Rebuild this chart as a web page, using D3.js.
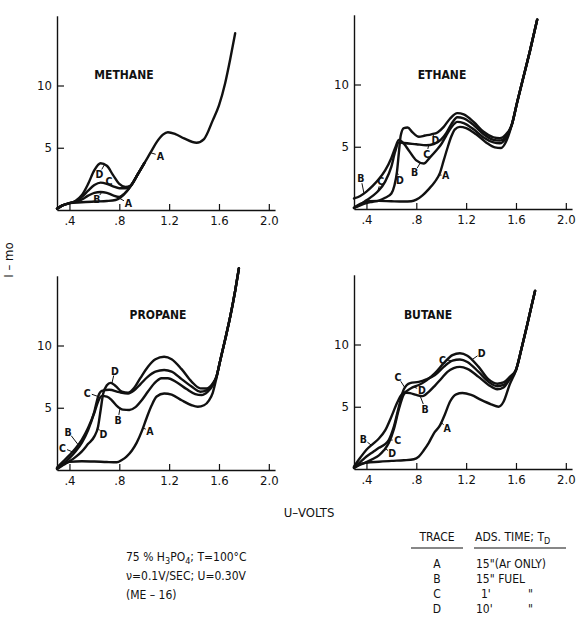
<!DOCTYPE html>
<html>
<head>
<meta charset="utf-8">
<script src="https://cdn.jsdelivr.net/npm/d3@7"></script>
<style>
  html, body { margin: 0; padding: 0; background: #fff; }
  svg { display: block; }
  text { font-family: "DejaVu Sans Condensed", "Liberation Sans Narrow", "Roboto Condensed", "DejaVu Sans", sans-serif; fill: #111; }
</style>
</head>
<body>
<svg id="chart" width="578" height="628"></svg>
<script>
// Anodic sweeps, current I (mA) against potential U (V), for four adsorbed fuels.
// Each trace is a list of [U, I] readings.

const xTickValues = [0.4, 0.8, 1.2, 1.6, 2.0];
const xTickLabels = [".4", ".8", "1.2", "1.6", "2.0"];
const yTickValues = [5, 10];
const yTickLabels = ["5", "10"];

// ---- METHANE ----
const methaneA = [[0.30,0.10],[0.34,0.35],[0.40,0.55],[0.50,0.62],[0.60,0.68],[0.70,0.72],[0.77,0.80],[0.81,1.00],[0.86,1.50],[0.89,1.90],[0.95,2.90],[1.00,3.75],[1.05,4.60],[1.10,5.45],[1.15,6.05],[1.19,6.25],[1.25,6.10],[1.32,5.75],[1.42,5.40],[1.48,5.70],[1.55,7.20],[1.60,8.40],[1.65,10.20],[1.69,12.10],[1.73,14.20]];
const methaneB = [[0.30,0.10],[0.34,0.35],[0.40,0.55],[0.45,0.65],[0.50,0.85],[0.55,1.15],[0.60,1.38],[0.65,1.45],[0.70,1.38],[0.75,1.18],[0.80,1.05],[0.84,1.30],[0.89,1.90],[0.95,2.90],[1.00,3.75]];
const methaneC = [[0.30,0.10],[0.34,0.35],[0.40,0.55],[0.45,0.70],[0.50,1.05],[0.55,1.55],[0.60,2.00],[0.65,2.20],[0.70,2.10],[0.75,1.90],[0.80,1.75],[0.85,1.75],[0.89,1.95],[0.95,2.90],[1.00,3.75]];
const methaneD = [[0.30,0.10],[0.34,0.35],[0.40,0.55],[0.45,0.75],[0.50,1.20],[0.55,2.10],[0.60,3.20],[0.65,3.75],[0.70,3.55],[0.75,2.80],[0.80,2.10],[0.85,1.85],[0.89,1.95],[0.95,2.90],[1.00,3.75]];

// ---- ETHANE ----
const ethaneTail = [[1.61,8.60],[1.66,10.60],[1.71,12.60],[1.77,15.20]];
const ethaneA = [[0.30,0.10],[0.33,0.30],[0.37,0.50],[0.42,0.62],[0.50,0.65],[0.60,0.62],[0.70,0.60],[0.76,0.62],[0.80,0.75],[0.85,1.10],[0.90,1.60],[0.95,2.20],[0.99,2.90],[1.02,3.90],[1.05,4.90],[1.08,5.80],[1.11,6.40],[1.15,6.60],[1.20,6.50],[1.28,6.00],[1.36,5.35],[1.43,4.95],[1.48,4.90],[1.52,5.40],[1.566,6.75]];
const ethaneB = [[0.30,0.85],[0.35,1.05],[0.40,1.40],[0.45,1.85],[0.50,2.40],[0.55,3.10],[0.60,4.10],[0.63,4.90],[0.66,5.55],[0.70,5.25],[0.74,4.70],[0.80,3.90],[0.86,3.65],[0.91,4.15],[0.96,4.70],[1.00,5.20],[1.04,5.90],[1.08,6.55],[1.13,7.00],[1.18,6.90],[1.26,6.40],[1.34,5.75],[1.42,5.35],[1.47,5.28],[1.52,5.70],[1.566,6.75]];
const ethaneC = [[0.30,0.10],[0.35,0.35],[0.40,0.70],[0.45,1.05],[0.50,1.50],[0.55,2.20],[0.60,3.40],[0.63,4.60],[0.66,5.35],[0.70,5.30],[0.80,5.20],[0.88,5.12],[0.94,5.22],[1.00,5.60],[1.04,6.10],[1.08,6.80],[1.13,7.37],[1.18,7.28],[1.26,6.75],[1.34,6.00],[1.42,5.55],[1.47,5.50],[1.52,5.85],[1.566,6.75]];
const ethaneD = [[0.30,0.08],[0.35,0.30],[0.40,0.48],[0.45,0.58],[0.50,0.68],[0.55,0.90],[0.60,1.25],[0.625,1.90],[0.645,3.00],[0.66,4.50],[0.675,5.90],[0.70,6.50],[0.73,6.55],[0.77,6.15],[0.82,5.80],[0.87,5.90],[0.92,6.00],[0.97,6.15],[1.02,6.60],[1.07,7.25],[1.13,7.70],[1.18,7.60],[1.26,7.00],[1.34,6.20],[1.42,5.75],[1.47,5.68],[1.52,6.00],[1.566,6.75]];

// ---- PROPANE ----
const propaneTail = [[1.61,8.80],[1.65,10.50],[1.69,12.30],[1.73,14.40],[1.76,16.20]];
const propaneA = [[0.30,0.10],[0.34,0.40],[0.40,0.65],[0.50,0.70],[0.60,0.68],[0.70,0.64],[0.78,0.62],[0.82,0.80],[0.86,1.10],[0.90,1.55],[0.94,2.20],[0.98,3.10],[1.02,4.20],[1.06,5.20],[1.10,5.90],[1.16,6.15],[1.22,6.05],[1.30,5.60],[1.38,5.20],[1.43,5.08],[1.48,5.20],[1.52,5.60],[1.55,6.20],[1.58,7.40]];
const propaneB = [[0.30,0.20],[0.35,0.70],[0.40,1.20],[0.45,1.75],[0.50,2.45],[0.55,3.40],[0.60,4.60],[0.63,5.50],[0.66,5.95],[0.70,5.90],[0.74,5.60],[0.78,5.15],[0.83,4.85],[0.88,4.82],[0.93,5.05],[0.98,5.60],[1.03,6.30],[1.08,6.95],[1.14,7.37],[1.19,7.37],[1.26,7.05],[1.34,6.50],[1.41,6.10],[1.46,6.02],[1.51,6.30],[1.55,6.80],[1.58,7.50]];
const propaneC = [[0.30,0.10],[0.35,0.50],[0.40,0.95],[0.45,1.50],[0.50,2.20],[0.55,3.20],[0.60,4.70],[0.63,5.90],[0.66,6.35],[0.72,6.45],[0.80,6.25],[0.87,6.15],[0.92,6.40],[0.97,6.90],[1.03,7.50],[1.09,7.90],[1.16,8.03],[1.22,7.90],[1.30,7.30],[1.38,6.70],[1.45,6.29],[1.50,6.40],[1.55,6.90],[1.58,7.50]];
const propaneD = [[0.30,0.08],[0.35,0.40],[0.40,0.70],[0.45,1.05],[0.50,1.50],[0.55,2.10],[0.60,2.70],[0.63,3.50],[0.65,4.80],[0.67,6.10],[0.70,6.80],[0.73,7.00],[0.77,6.75],[0.82,6.30],[0.87,6.20],[0.92,6.60],[0.97,7.40],[1.03,8.30],[1.09,8.90],[1.16,9.10],[1.22,8.90],[1.30,8.10],[1.38,7.10],[1.45,6.56],[1.50,6.55],[1.55,6.95],[1.58,7.50]];

// ---- BUTANE ----
const butaneTail = [[1.645,9.70],[1.686,11.40],[1.72,12.90],[1.753,14.30]];
const butaneA = [[0.30,0.10],[0.34,0.35],[0.40,0.50],[0.50,0.58],[0.60,0.65],[0.70,0.70],[0.78,0.78],[0.82,1.00],[0.86,1.50],[0.90,2.10],[0.94,2.85],[0.99,3.50],[1.03,4.40],[1.07,5.40],[1.12,6.00],[1.17,6.10],[1.24,5.95],[1.32,5.55],[1.40,5.20],[1.46,5.00],[1.50,5.40],[1.55,6.80],[1.60,7.95]];
const butaneB = [[0.30,0.20],[0.35,0.90],[0.40,1.55],[0.45,2.00],[0.50,2.45],[0.55,3.10],[0.60,4.20],[0.65,5.40],[0.70,6.15],[0.75,6.10],[0.80,5.95],[0.85,5.85],[0.90,6.20],[0.95,6.70],[1.00,7.25],[1.05,7.80],[1.10,8.10],[1.15,8.20],[1.21,8.05],[1.30,7.40],[1.38,6.75],[1.45,6.40],[1.50,6.55],[1.55,7.20],[1.60,7.95]];
const butaneC = [[0.30,0.12],[0.35,0.55],[0.40,1.00],[0.45,1.35],[0.50,1.70],[0.55,2.00],[0.58,2.35],[0.62,3.40],[0.66,5.00],[0.70,6.40],[0.75,6.90],[0.82,7.00],[0.88,7.20],[0.95,7.55],[1.02,8.20],[1.09,8.70],[1.15,8.80],[1.21,8.60],[1.30,7.80],[1.38,7.00],[1.45,6.65],[1.50,6.75],[1.55,7.30],[1.60,7.95]];
const butaneD = [[0.30,0.08],[0.35,0.35],[0.40,0.55],[0.45,0.80],[0.50,1.10],[0.54,1.50],[0.58,2.10],[0.62,3.20],[0.66,4.80],[0.70,6.00],[0.76,6.50],[0.82,6.75],[0.88,7.10],[0.95,7.70],[1.02,8.50],[1.09,9.15],[1.15,9.30],[1.21,9.10],[1.30,8.20],[1.38,7.20],[1.45,6.85],[1.50,6.95],[1.55,7.40],[1.60,7.95]];

// Trace letters: [trace, U on the trace, text offset x, text offset y] (offsets in px)
const methaneCallouts = [["A",1.05,10,3],["D",0.68,-5,9],["C",0.75,-4,-5],["B",0.66,-5,7],["A",0.80,9,5]];
const ethaneCallouts = [["B",0.38,-3,-15],["C",0.49,3,-10],["D",0.645,3,8],["B",0.835,-6,10],["A",0.98,7,0],["C",0.90,-2,9],["D",0.93,3,6]];
const propaneCallouts = [["D",0.74,3,-13],["C",0.63,-11,-4],["B",0.806,-2,12],["B",0.47,-10,-13],["C",0.44,-12,-5],["D",0.625,6,6],["A",0.99,7,3]];
const butaneCallouts = [["C",1.09,-10,-1],["D",1.244,10,-7],["C",0.71,-7,-11],["D",0.78,8,3],["B",0.83,5,13],["A",1.00,6,5],["B",0.44,-8,-6],["C",0.578,9,0],["D",0.55,7,5]];

const traceNames = ["A", "B", "C", "D"];

const panels = [
  { title: "METHANE", left: 57,  base: 210, titleX: 124, titleY: 79,
    traces: { A: methaneA, B: methaneB, C: methaneC, D: methaneD }, tail: [], callouts: methaneCallouts },
  { title: "ETHANE",  left: 354, base: 209, titleX: 442, titleY: 79,
    traces: { A: ethaneA, B: ethaneB, C: ethaneC, D: ethaneD }, tail: ethaneTail, callouts: ethaneCallouts },
  { title: "PROPANE", left: 57,  base: 470, titleX: 158, titleY: 319,
    traces: { A: propaneA, B: propaneB, C: propaneC, D: propaneD }, tail: propaneTail, callouts: propaneCallouts },
  { title: "BUTANE",  left: 354, base: 469, titleX: 428, titleY: 319,
    traces: { A: butaneA, B: butaneB, C: butaneC, D: butaneD }, tail: butaneTail, callouts: butaneCallouts }
];

const svg = d3.select("#chart");
const pxPerVolt = 124.6;
const pxPerMA = 12.45;
const yTop = 15.6;

function valueAt(pts, u) {
  for (let i = 1; i < pts.length; i++) {
    if (u <= pts[i][0]) {
      const [u0, i0] = pts[i - 1], [u1, i1] = pts[i];
      return i0 + (i1 - i0) * (u - u0) / (u1 - u0);
    }
  }
  return pts[pts.length - 1][1];
}

panels.forEach(p => {
  const x = d3.scaleLinear().domain([0.3, 2.05]).range([p.left, p.left + 1.75 * pxPerVolt]);
  const y = d3.scaleLinear().domain([0, yTop]).range([p.base, p.base - yTop * pxPerMA]);
  const g = svg.append("g");

  const xAxis = d3.axisBottom(x)
    .tickValues(xTickValues)
    .tickFormat((d, i) => xTickLabels[i])
    .tickSizeInner(-6).tickSizeOuter(0).tickPadding(6);
  const gx = g.append("g").attr("transform", `translate(0,${p.base})`).call(xAxis);

  const yAxis = d3.axisLeft(y)
    .tickValues(yTickValues)
    .tickFormat((d, i) => yTickLabels[i])
    .tickSizeInner(-7).tickSizeOuter(0).tickPadding(5);
  const gy = g.append("g").attr("transform", `translate(${p.left},0)`).call(yAxis);

  [gx, gy].forEach(a => {
    a.select(".domain").attr("stroke", "#111").attr("stroke-width", 1.4);
    a.selectAll(".tick line").attr("stroke", "#111").attr("stroke-width", 1.2);
    a.selectAll(".tick text").attr("font-size", 13).attr("fill", "#111")
      .style("font-family", '"DejaVu Sans Condensed","Liberation Sans Narrow","DejaVu Sans",sans-serif');
  });

  g.append("text")
    .attr("x", p.titleX).attr("y", p.titleY)
    .attr("text-anchor", "middle")
    .attr("font-size", 12).attr("font-weight", "bold")
    .text(p.title);

  const line = d3.line()
    .x(d => x(d[0])).y(d => y(d[1]))
    .curve(d3.curveMonotoneX);

  const full = {};
  traceNames.forEach(t => { full[t] = p.traces[t].concat(p.tail); });

  g.selectAll("path.trace")
    .data(traceNames.map(t => full[t]))
    .join("path")
    .attr("class", "trace")
    .attr("d", line)
    .attr("fill", "none")
    .attr("stroke", "#111")
    .attr("stroke-width", 2.4)
    .attr("stroke-linejoin", "round")
    .attr("stroke-linecap", "round");

  p.callouts.forEach(([t, u, dx, dy]) => {
    const cx = x(u), cy = y(valueAt(full[t], u));
    const len = Math.hypot(dx, dy);
    const k = Math.max(len - 5, len * 0.4) / len;
    g.append("line")
      .attr("x1", cx).attr("y1", cy)
      .attr("x2", cx + dx * k).attr("y2", cy + dy * k)
      .attr("stroke", "#111").attr("stroke-width", 1);
    g.append("text")
      .attr("x", cx + dx).attr("y", cy + dy)
      .attr("text-anchor", "middle").attr("dominant-baseline", "central")
      .attr("font-size", 10.5).attr("font-weight", "bold")
      .text(t);
  });
});

// Shared axis titles
svg.append("text")
  .attr("transform", "translate(13,260) rotate(-90)")
  .attr("text-anchor", "middle")
  .attr("font-size", 13)
  .text("I – mo");

svg.append("text")
  .attr("x", 309).attr("y", 517)
  .attr("text-anchor", "middle")
  .attr("font-size", 13)
  .text("U–VOLTS");

// Conditions
const cond = svg.append("g").attr("font-size", 12);
const l1 = cond.append("text").attr("x", 126).attr("y", 561);
l1.append("tspan").text("75 % H");
l1.append("tspan").attr("dy", 3).attr("font-size", 9).text("3");
l1.append("tspan").attr("dy", -3).text("PO");
l1.append("tspan").attr("dy", 3).attr("font-size", 9).text("4");
l1.append("tspan").attr("dy", -3).text("; T=100°C");
cond.append("text").attr("x", 126).attr("y", 580).text("ν=0.1V/SEC;  U=0.30V");
cond.append("text").attr("x", 126).attr("y", 599).text("(ME – 16)");

// Trace key
const traceRows = ["A", "B", "C", "D"];
const traceTimes = ["15\"(Ar ONLY)", "15\"  FUEL", "1'", "10'"];
const traceDitto = ["", "", "\"", "\""];
const key = svg.append("g").attr("font-size", 12);
key.append("text").attr("x", 437).attr("y", 541).attr("text-anchor", "middle").text("TRACE");
const hdr = key.append("text").attr("x", 475).attr("y", 541);
hdr.append("tspan").text("ADS. TIME; T");
hdr.append("tspan").attr("dy", 3).attr("font-size", 9).text("D");
key.append("line").attr("x1", 411).attr("x2", 463).attr("y1", 548).attr("y2", 548).attr("stroke", "#111").attr("stroke-width", 1.2);
key.append("line").attr("x1", 474).attr("x2", 566).attr("y1", 548).attr("y2", 548).attr("stroke", "#111").attr("stroke-width", 1.2);
traceRows.forEach((r, i) => {
  const yy = 568 + i * 15;
  key.append("text").attr("x", 437).attr("y", yy).attr("text-anchor", "middle").text(r);
  key.append("text").attr("x", i === 2 ? 481 : 476).attr("y", yy).text(traceTimes[i]);
  if (traceDitto[i]) key.append("text").attr("x", 528).attr("y", yy).text(traceDitto[i]);
});
</script>
</body>
</html>
